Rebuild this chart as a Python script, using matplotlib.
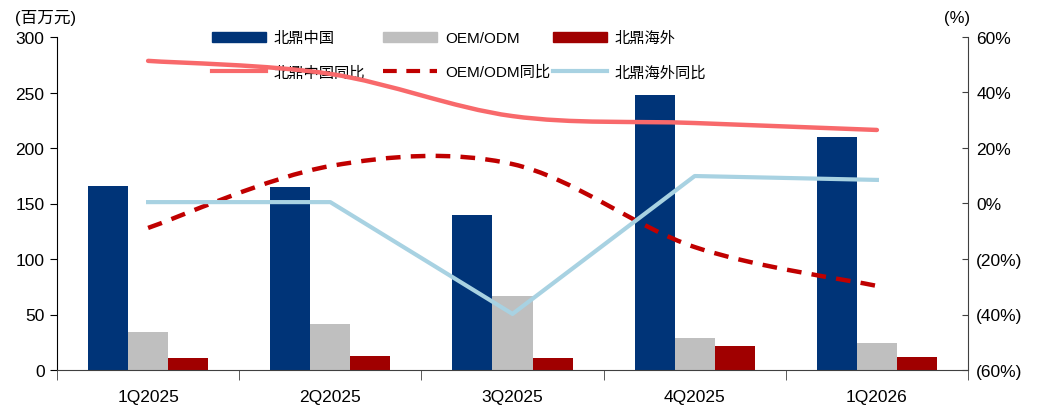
import numpy as np
import matplotlib
matplotlib.use('Agg')
import matplotlib.pyplot as plt
from matplotlib.path import Path
from matplotlib.patches import PathPatch, Rectangle
from matplotlib.lines import Line2D
from matplotlib.legend import Legend
from matplotlib.ticker import FuncFormatter

plt.rcParams['font.family'] = ['Liberation Sans', 'Noto Sans CJK SC']

# data
quarters = ['1Q2025', '2Q2025', '3Q2025', '4Q2025', '1Q2026']
cn_rev = [166, 165, 140, 248, 210]
oem_rev = [34, 41, 67, 29, 24]
os_rev = [11, 13, 11, 22, 12]
cn_yoy = [51.4, 46.7, 31.5, 29.0, 26.5]
oem_yoy = [-8.8, 13.5, 14.2, -15.7, -29.7]
os_yoy = [0.5, 0.5, -39.8, 9.9, 8.5]

navy = '#003478'
grey = '#BFBFBF'
dred = '#A00000'
pink = '#F8696B'
dash_red = '#C00000'
lblue = '#A8D2E2'
dash = (0, (3.3, 2.3))


def smooth_path(xs, ys):
    # excel-ish smoothed line: cubic bezier through points
    pts = np.column_stack([xs, ys]).astype(float)
    n = len(pts)
    verts = [pts[0]]
    codes = [Path.MOVETO]
    for i in range(n - 1):
        p0 = pts[i - 1] if i > 0 else pts[i]
        p1 = pts[i]
        p2 = pts[i + 1]
        p3 = pts[i + 2] if i + 2 < n else pts[i + 1]
        c1 = p1 + (p2 - p0) / 6.0
        c2 = p2 - (p3 - p1) / 6.0
        verts += [c1, c2, p2]
        codes += [Path.CURVE4] * 3
    return Path(verts, codes)


fig = plt.figure(figsize=(10.56, 4.06), dpi=100)
ax = fig.add_axes([57 / 1056, 35 / 406, 911 / 1056, 333 / 406])
ax2 = ax.twinx()

x = np.arange(len(quarters))
w = 0.22
ax.bar(x - w, cn_rev, w, color=navy, zorder=2)
ax.bar(x, oem_rev, w, color=grey, zorder=2)
ax.bar(x + w, os_rev, w, color=dred, zorder=2)

ax.set_xlim(-0.5, len(quarters) - 0.5)
ax.set_ylim(0, 300)
ax.set_yticks(range(0, 301, 50))
ax.set_xticks(x)
ax.set_xticklabels(quarters)
ax.set_xticks(np.arange(-0.5, len(quarters), 1.0), minor=True)
ax.tick_params(axis='x', which='major', length=0, labelsize=12.5, pad=14)
ax.tick_params(axis='x', which='minor', length=7, color='#404040', direction='out')
ax.tick_params(axis='y', labelsize=12.5, length=5, direction='out', pad=4)
ax.spines['top'].set_visible(False)
ax.spines['right'].set_visible(False)
ax.spines['bottom'].set_color('#404040')
ax.spines['left'].set_color('#000000')

ax2.set_ylim(-60, 60)
ax2.set_yticks(range(-60, 61, 20))
ax2.yaxis.set_major_formatter(FuncFormatter(lambda v, p: f'{int(v)}%' if v >= 0 else f'({int(-v)}%)'))
ax2.tick_params(axis='y', labelsize=12.5, length=4, direction='in', pad=6, color='#404040')
ax2.spines['top'].set_visible(False)
ax2.spines['left'].set_visible(False)
ax2.spines['bottom'].set_visible(False)
ax2.spines['right'].set_color('#404040')

ax2.add_patch(PathPatch(smooth_path(x, cn_yoy), fill=False, edgecolor=pink, lw=3.2, capstyle='round'))
ax2.add_patch(PathPatch(smooth_path(x, oem_yoy), fill=False, edgecolor=dash_red, lw=3.2,
                        linestyle=dash))
ax2.plot(x, os_yoy, color=lblue, lw=3)

fig.text(15 / 1056, 1 - 18 / 406, '(百万元)', fontsize=12, va='center', ha='left')
fig.text(944 / 1056, 1 - 18 / 406, '(%)', fontsize=12, va='center', ha='left')

# legend: one small legend per column, placed by handle start
cols = [
    ([Rectangle((0, 0), 1, 1, color=navy), Line2D([], [], color=pink, lw=3)],
     ['北鼎中国', '北鼎中国同比'], 212),
    ([Rectangle((0, 0), 1, 1, color=grey), Line2D([], [], color=dash_red, lw=3, linestyle=dash)],
     ['OEM/ODM', 'OEM/ODM同比'], 383),
    ([Rectangle((0, 0), 1, 1, color=dred), Line2D([], [], color=lblue, lw=3)],
     ['北鼎海外', '北鼎海外同比'], 553),
]
for hs, ls, x0 in cols:
    leg = Legend(ax, hs, ls, frameon=False, fontsize=11, loc='upper left',
                 bbox_to_anchor=(x0 / 1056, 1 - 32 / 406), bbox_transform=fig.transFigure,
                 borderpad=0, borderaxespad=0, handlelength=3.55, handleheight=0.65,
                 handletextpad=0.5, labelspacing=1.3)
    ax.add_artist(leg)

fig.savefig('out.png', dpi=100)
